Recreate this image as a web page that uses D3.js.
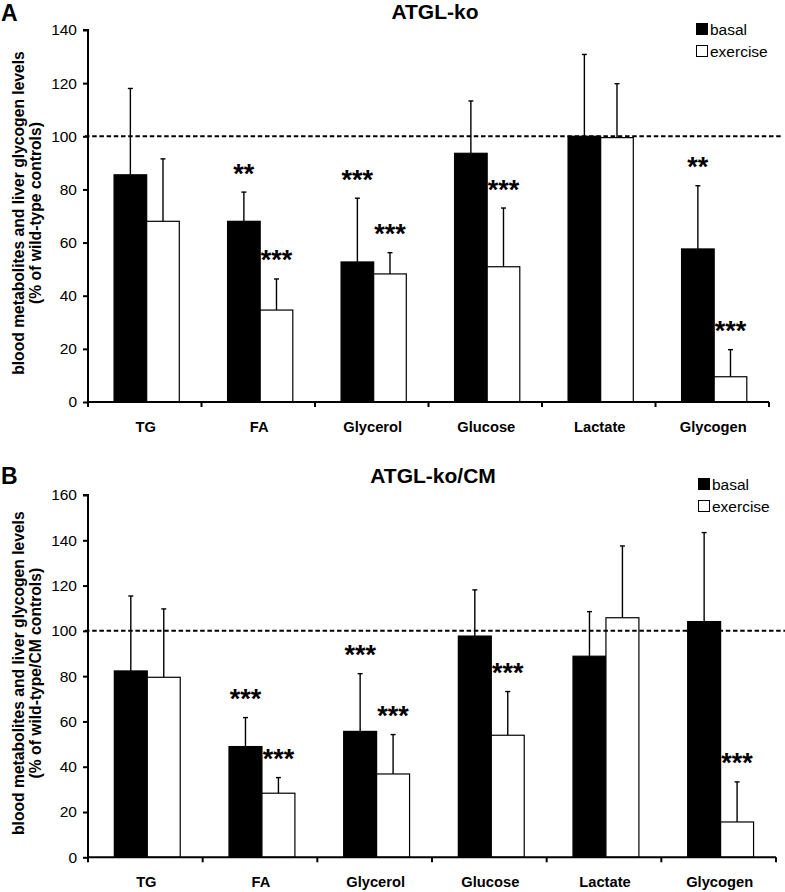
<!DOCTYPE html>
<html>
<head>
<meta charset="utf-8">
<script src="https://cdn.jsdelivr.net/npm/d3@7"></script>
<style>
  html, body { margin: 0; padding: 0; background: #fff; }
  svg { display: block; font-family: "Liberation Sans", Arial, sans-serif; }
</style>
</head>
<body>
<svg id="chart" width="785" height="892"></svg>
<script>
// ---------- data ----------
const categories = ["TG", "FA", "Glycerol", "Glucose", "Lactate", "Glycogen"];
const seriesNames = ["basal", "exercise"];

// Panel A: ATGL-ko (% of wild-type controls)
const basalA        = [85.5, 68.0, 52.7, 93.6, 100.0, 57.6];
const basalErrA     = [32.5, 11.0, 24.0, 19.7, 30.8, 23.8];
const exerciseA     = [68.0, 34.6, 48.2, 50.9, 99.5, 9.5];
const exerciseErrA  = [23.5, 11.7, 8.0, 22.1, 20.3, 10.2];
const sigBasalA     = ["", "**", "***", "", "", "**"];
const sigExerciseA  = ["", "***", "***", "***", "", "***"];
const ticksA        = [0, 20, 40, 60, 80, 100, 120, 140];

// Panel B: ATGL-ko/CM (% of wild-type/CM controls)
const basalB        = [82.3, 48.9, 55.6, 97.7, 88.8, 104.1];
const basalErrB     = [33.1, 12.8, 25.5, 20.4, 19.7, 39.3];
const exerciseB     = [79.5, 28.3, 36.8, 53.9, 105.8, 15.6];
const exerciseErrB  = [30.2, 6.9, 17.4, 19.3, 31.7, 17.7];
const sigBasalB     = ["", "***", "***", "", "", ""];
const sigExerciseB  = ["", "***", "***", "***", "", "***"];
const ticksB        = [0, 20, 40, 60, 80, 100, 120, 140, 160];

const referenceLine = 100;

const svg = d3.select("#chart");

function drawPanel(cfg) {
  const g = svg.append("g");
  const x = d3.scaleBand().domain(categories).range([cfg.x0, cfg.x1]).paddingInner(0).paddingOuter(0);
  const xs = d3.scaleBand().domain(seriesNames).range([0, x.bandwidth()])
    .paddingInner(0).paddingOuter(0.74).align(0.54);
  const y = d3.scaleLinear().domain([0, d3.max(cfg.ticks)]).range([cfg.yBottom, cfg.yTop]);

  const rows = [];
  categories.forEach((c, i) => {
    rows.push({cat: c, s: "basal", v: cfg.basal[i], e: cfg.basalErr[i], sig: cfg.sigBasal[i]});
    rows.push({cat: c, s: "exercise", v: cfg.exercise[i], e: cfg.exerciseErr[i], sig: cfg.sigExercise[i]});
  });

  // error bars (upper only)
  const eb = g.append("g").attr("stroke", "#000").attr("stroke-width", 1.4);
  rows.forEach(d => {
    const cx = x(d.cat) + xs(d.s) + xs.bandwidth() / 2;
    eb.append("line").attr("x1", cx).attr("x2", cx).attr("y1", y(d.v)).attr("y2", y(d.v + d.e));
    eb.append("line").attr("x1", cx - 2.5).attr("x2", cx + 2.5).attr("y1", y(d.v + d.e)).attr("y2", y(d.v + d.e));
  });

  // bars
  g.append("g").selectAll("rect").data(rows).join("rect")
    .attr("x", d => x(d.cat) + xs(d.s))
    .attr("width", xs.bandwidth())
    .attr("y", d => y(d.v))
    .attr("height", d => y(0) - y(d.v))
    .attr("fill", d => d.s === "basal" ? "#000" : "#fff")
    .attr("stroke", "#000")
    .attr("stroke-width", 1.2);

  // reference dashed line
  g.append("line")
    .attr("x1", cfg.x0 - 3).attr("x2", cfg.dashEnd)
    .attr("y1", y(referenceLine)).attr("y2", y(referenceLine))
    .attr("stroke", "#000").attr("stroke-width", 2)
    .attr("stroke-dasharray", "4.5,2.7");

  // significance stars
  g.append("g").selectAll("text").data(rows.filter(d => d.sig)).join("text")
    .attr("x", d => x(d.cat) + xs(d.s) + xs.bandwidth() / 2)
    .attr("y", d => y(d.v + d.e) - 20 + 10.5)
    .attr("text-anchor", "middle")
    .attr("font-size", 27).attr("font-weight", "bold")
    .text(d => d.sig);

  // y axis
  const yAxis = d3.axisLeft(y).tickValues(cfg.ticks).tickSize(5).tickPadding(6);
  const ya = g.append("g").attr("transform", `translate(${cfg.x0},0)`).call(yAxis)
    .attr("font-size", null).attr("font-family", null);
  ya.select(".domain").attr("stroke-width", 2).attr("d", `M-5,${y(d3.max(cfg.ticks))}H0V${cfg.yBottom}`);
  ya.selectAll(".tick line").attr("stroke-width", 2);
  ya.selectAll(".tick text").style("font-size", "15.5px").attr("fill", "#000");

  // x axis: ticks at category boundaries
  const xa = g.append("g").attr("transform", `translate(0,${cfg.yBottom})`);
  xa.append("line").attr("x1", cfg.x0).attr("x2", cfg.x1).attr("stroke", "#000").attr("stroke-width", 2);
  const bounds = categories.map(c => x(c)).concat([cfg.x1]);
  xa.selectAll("line.tk").data(bounds).join("line").attr("class", "tk")
    .attr("x1", d => d).attr("x2", d => d).attr("y1", 0).attr("y2", 5)
    .attr("stroke", "#000").attr("stroke-width", 2);
  xa.selectAll("text").data(categories).join("text")
    .attr("x", d => x(d) + x.bandwidth() / 2 + 1)
    .attr("y", 29.5)
    .attr("text-anchor", "middle")
    .attr("font-size", 14.7).attr("font-weight", "bold")
    .text(d => d);

  // y label (size fitted so the first line spans ~324px as in the reference)
  const yl = g.append("text")
    .attr("transform", `translate(0,${(cfg.yTop + cfg.yBottom) / 2 - 3}) rotate(-90)`)
    .attr("text-anchor", "middle")
    .attr("font-size", 15).attr("font-weight", "bold");
  const t1 = yl.append("tspan").attr("x", 0).attr("y", 23.5).text("blood metabolites and liver glycogen levels");
  yl.append("tspan").attr("x", 0).attr("y", 40.5).text(cfg.yLabel2);
  const len = t1.node().getComputedTextLength();
  if (len > 0) yl.attr("font-size", Math.min(16, 15 * 324 / len));

  // title & panel letter
  g.append("text").attr("x", cfg.titleX).attr("y", cfg.titleY)
    .attr("text-anchor", "middle").attr("font-size", 21).attr("font-weight", "bold").text(cfg.title);
  g.append("text").attr("x", 1).attr("y", cfg.letterY)
    .attr("font-size", 23).attr("font-weight", "bold").text(cfg.letter);

  // legend
  const lg = g.append("g").attr("transform", `translate(${cfg.legX},${cfg.legY})`);
  seriesNames.forEach((s, i) => {
    lg.append("rect").attr("x", 0.5).attr("y", i * 22 - 11.5).attr("width", 11).attr("height", 11)
      .attr("fill", s === "basal" ? "#000" : "#fff").attr("stroke", "#000").attr("stroke-width", 1);
    lg.append("text").attr("x", 14).attr("y", i * 22).attr("font-size", 15.5).text(s);
  });
}

drawPanel({
  x0: 88, x1: 769, yTop: 30, yBottom: 402, dashEnd: 783,
  basal: basalA, basalErr: basalErrA, exercise: exerciseA, exerciseErr: exerciseErrA,
  sigBasal: sigBasalA, sigExercise: sigExerciseA, ticks: ticksA,
  yLabel2: "(% of wild-type controls)",
  title: "ATGL-ko", titleX: 435, titleY: 19, letter: "A", letterY: 21,
  legX: 696, legY: 35
});

drawPanel({
  x0: 88, x1: 776, yTop: 495, yBottom: 857.3, dashEnd: 785,
  basal: basalB, basalErr: basalErrB, exercise: exerciseB, exerciseErr: exerciseErrB,
  sigBasal: sigBasalB, sigExercise: sigExerciseB, ticks: ticksB,
  yLabel2: "(% of wild-type/CM controls)",
  title: "ATGL-ko/CM", titleX: 433, titleY: 483, letter: "B", letterY: 484,
  legX: 698, legY: 490
});
</script>
</body>
</html>
